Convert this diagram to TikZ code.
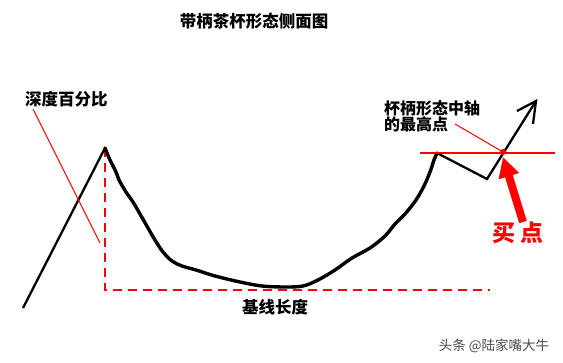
\documentclass[tikz,border=0pt]{standalone}
\usepackage{fontspec}
\newfontfamily\cjk{Noto Sans CJK SC}
\usetikzlibrary{arrows.meta}
\tikzset{
  lbl/.style={font=\cjk\bfseries\fontsize{16.5}{17}\selectfont, inner sep=0pt, anchor=west},
  cupline/.style={line width=3.4pt, black, line join=round, line cap=round},
  plainline/.style={line width=2.3pt, black, line join=miter},
  redthin/.style={red, line width=1pt},
  reddash/.style={red, line width=2.5pt, dash pattern=on 9pt off 6pt},
}
\begin{document}
\begin{tikzpicture}[x=1pt,y=-1pt]
\useasboundingbox (0,0) rectangle (563,363);
\fill[white] (0,0) rectangle (563,363);
% title
\node[lbl, anchor=center] (title) at (254,21) {带柄茶杯形态侧面图};
\node[lbl] (depth) at (25,99) {深度百分比};
\node[lbl, anchor=center] (base) at (275,307) {基线长度};
\node[lbl, align=left, font=\cjk\bfseries\fontsize{16}{16}\selectfont] (axis) at (384,116) {杯柄形态中轴\\的最高点};
\node[font=\cjk\bfseries\fontsize{23}{24}\selectfont, text=red, inner sep=0pt] (buy) at (518,233) {买\hspace{5pt}点};
\node[font=\cjk\fontsize{13.5}{14}\selectfont, text=black!70, inner sep=0pt] (wm) at (494,346) {头条 @陆家嘴大牛};
% key coordinates
\coordinate (start) at (23,308);
\coordinate (peak) at (105,148);
\coordinate (corner) at (105,290);
\coordinate (dashend) at (490,290);
\coordinate (rpeak) at (437,153);
\coordinate (hlow) at (487,179);
\coordinate (tip) at (536,101);
\coordinate (hl1) at (420,153);
\coordinate (hl2) at (555,153);
\coordinate (dot) at (503,152);
\coordinate (d1) at (33,109);
\coordinate (d2) at (100,243);
\coordinate (a1) at (455,124);
\coordinate (arrtail) at (523,222);
\coordinate (arrtip) at (503,157);
% red dashed baseline
\draw[reddash] (peak) -- (corner) -- (dashend);
% left rising line
\draw[plainline] (start) -- (peak);
% cup
\draw[cupline] plot[smooth, tension=0.55] coordinates {
 (peak) (110,160) (116,172) (119,180) (126,192) (133,202) (140,214) (148,228)
 (155,240) (163,252) (172,261) (182,266) (196,270) (215,276) (240,282)
 (262,286) (285,287) (303,286) (318,280) (335,270) (352,258) (370,248)
 (385,236) (395,224) (405,214) (416,200) (424,186) (430,172) (434,160) (rpeak)};
% handle and breakout
\draw[plainline] (rpeak) -- (hlow) -- (tip);
\draw[plainline] (517,111) -- (tip) -- (533,124);
% red horizontal axis
\draw[red, line width=2.2pt] (hl1) -- (hl2);
% red thin pointer lines
\draw[redthin] (d1) -- (d2);
\draw[redthin] (a1) -- (dot);
\fill[red] (dot) circle (3pt);
% buy arrow
\draw[red, line width=8pt, -{Triangle[length=20pt,width=20pt]}] (arrtail) -- (arrtip);
\end{tikzpicture}
\end{document}
